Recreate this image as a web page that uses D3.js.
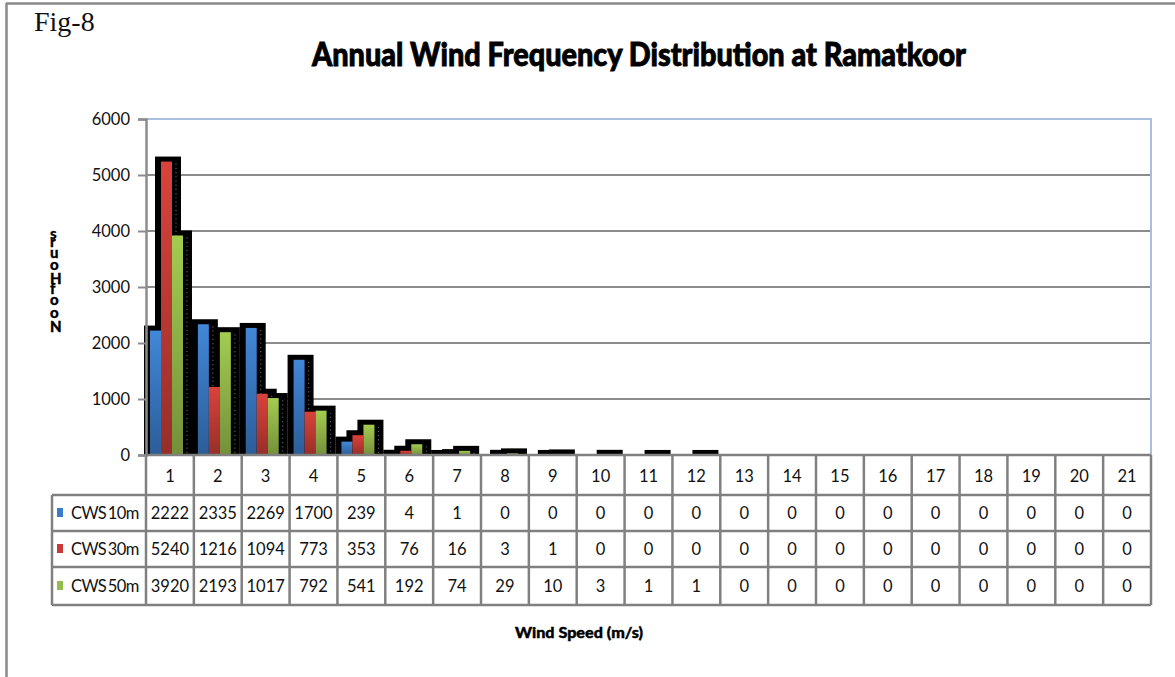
<!DOCTYPE html>
<html>
<head>
<meta charset="utf-8">
<script src="https://cdn.jsdelivr.net/npm/d3@7"></script>
<style>
  html, body { margin: 0; padding: 0; background: #ffffff; }
  svg { display: block; }
</style>
</head>
<body>
<svg id="chart" width="1175" height="677"></svg>
<script>
// Wind speed bins (m/s) and hourly counts for each mast height
const categories = ["1","2","3","4","5","6","7","8","9","10","11","12","13","14","15","16","17","18","19","20","21"];
const seriesNames = ["CWS 10m", "CWS 30m", "CWS 50m"];
const cws10 = [2222, 2335, 2269, 1700, 239, 4, 1, 0, 0, 0, 0, 0, 0, 0, 0, 0, 0, 0, 0, 0, 0];
const cws30 = [5240, 1216, 1094, 773, 353, 76, 16, 3, 1, 0, 0, 0, 0, 0, 0, 0, 0, 0, 0, 0, 0];
const cws50 = [3920, 2193, 1017, 792, 541, 192, 74, 29, 10, 3, 1, 1, 0, 0, 0, 0, 0, 0, 0, 0, 0];
const yTicks = [0, 1000, 2000, 3000, 4000, 5000, 6000];

const seriesValues = [cws10, cws30, cws50];
const seriesColors = [
  { top: "#4287d8", bottom: "#2c5d98", key: "#3b7bcb" },
  { top: "#da423b", bottom: "#982e29", key: "#c83a36" },
  { top: "#a3cc50", bottom: "#74903a", key: "#94bb4c" }
];

const svg = d3.select("#chart");
const font = "Lato, 'Open Sans', sans-serif";

const plot = { left: 146, right: 1151, top: 119, bottom: 455 };

const x = d3.scaleBand().domain(categories).range([plot.left, plot.right]).padding(0);
const sub = d3.scaleBand().domain(seriesNames).range([4, 37]).padding(0);
const y = d3.scaleLinear().domain([0, 6000]).range([plot.bottom, plot.top]);

// gradients for the bar fills
const defs = svg.append("defs");
seriesColors.forEach((c, i) => {
  const g = defs.append("linearGradient")
    .attr("id", "grad" + i).attr("x1", 0).attr("y1", 0).attr("x2", 0).attr("y2", 1);
  g.append("stop").attr("offset", "0%").attr("stop-color", c.top);
  g.append("stop").attr("offset", "100%").attr("stop-color", c.bottom);
});

// outer frame
svg.append("line").attr("x1", 6).attr("x2", 1175).attr("y1", 3.5).attr("y2", 3.5)
  .attr("stroke", "#8a8a8a").attr("stroke-width", 2.5);
svg.append("line").attr("x1", 6.5).attr("x2", 6.5).attr("y1", 3).attr("y2", 677)
  .attr("stroke", "#8a8a8a").attr("stroke-width", 2.5);

// figure tag and title
svg.append("text").attr("x", 34).attr("y", 31)
  .attr("font-family", "'Liberation Serif', 'Times New Roman', serif")
  .attr("font-size", 28).attr("fill", "#111").text("Fig-8");

svg.append("text").attr("x", 312).attr("y", 66)
  .attr("font-family", font).attr("font-weight", 900).attr("font-size", 33)
  .attr("textLength", 654).attr("lengthAdjust", "spacingAndGlyphs")
  .attr("fill", "#000").attr("stroke", "#000").attr("stroke-width", 0.9)
  .text("Annual Wind Frequency Distribution at Ramatkoor");

// gridlines
svg.append("g").selectAll("line").data(yTicks.filter(t => t > 0 && t < 6000)).join("line")
  .attr("x1", plot.left).attr("x2", plot.right)
  .attr("y1", d => y(d)).attr("y2", d => y(d))
  .attr("stroke", "#8c8c8c").attr("stroke-width", 2);

// plot area border (top and right)
svg.append("path")
  .attr("d", `M${plot.left},${y(6000)}H${plot.right}V${plot.bottom}`)
  .attr("fill", "none").attr("stroke", "#a9bfdf").attr("stroke-width", 2);

// flatten bars
const bars = [];
categories.forEach((c, ci) => {
  seriesNames.forEach((s, si) => {
    bars.push({ cat: c, series: s, si: si, value: seriesValues[si][ci] });
  });
});
const barW = sub.bandwidth();

// black drop shadows behind bars
const shadowG = svg.append("g");
shadowG.selectAll("rect").data(bars.filter(d => d.value > 0)).join("rect")
  .attr("x", d => x(d.cat) + sub(d.series) - 6)
  .attr("y", d => y(d.value) - 5)
  .attr("width", barW + 15)
  .attr("height", d => plot.bottom - y(d.value) + 5)
  .attr("fill", "#000");
shadowG.selectAll("line").data(bars.filter(d => d.value > 60)).join("line")
  .attr("x1", d => x(d.cat) + sub(d.series) + barW + 4)
  .attr("x2", d => x(d.cat) + sub(d.series) + barW + 4)
  .attr("y1", d => y(d.value) + 2).attr("y2", plot.bottom)
  .attr("stroke", "#5a5a5a").attr("stroke-width", 1.2).attr("stroke-dasharray", "1.2,3");

// bars
svg.append("g").selectAll("rect").data(bars.filter(d => d.value > 0)).join("rect")
  .attr("x", d => x(d.cat) + sub(d.series))
  .attr("y", d => y(d.value))
  .attr("width", barW)
  .attr("height", d => plot.bottom - y(d.value))
  .attr("fill", d => `url(#grad${d.si})`);

// y axis
const yAxis = svg.append("g").attr("transform", `translate(${plot.left},0)`)
  .call(d3.axisLeft(y).tickValues(yTicks).tickSize(8).tickPadding(8).tickFormat(d3.format("d")));
yAxis.select(".domain").attr("stroke", "#8c8c8c").attr("stroke-width", 2.5);
yAxis.selectAll(".tick line").attr("stroke", "#8c8c8c").attr("stroke-width", 2);
yAxis.selectAll(".tick text").attr("font-family", font).attr("font-size", 16.5).attr("fill", "#111");

// y axis title: upright letters stacked bottom to top
svg.append("text")
  .attr("transform", "translate(50,332) rotate(-90)")
  .attr("rotate", "90")
  .attr("font-family", font).attr("font-weight", 900).attr("font-size", 15)
  .attr("word-spacing", -5)
  .attr("textLength", 100).attr("lengthAdjust", "spacing")
  .attr("fill", "#000").attr("stroke", "#000").attr("stroke-width", 0.3)
  .text("No of Hours");

// data table
const rowEdges = [455, 495, 531, 567, 605];
const tableLeft = 52;
const lineColor = "#808080";
const table = svg.append("g");

// horizontal rules
table.selectAll("line.h").data(rowEdges.slice(1)).join("line").attr("class", "h")
  .attr("x1", tableLeft).attr("x2", plot.right)
  .attr("y1", d => d).attr("y2", d => d)
  .attr("stroke", lineColor).attr("stroke-width", 2.5);
table.append("line").attr("x1", plot.left).attr("x2", plot.right)
  .attr("y1", plot.bottom).attr("y2", plot.bottom)
  .attr("stroke", lineColor).attr("stroke-width", 2.5);

// vertical rules at column edges
const colEdges = categories.map(c => x(c)).concat([plot.right]);
table.selectAll("line.v").data(colEdges).join("line").attr("class", "v")
  .attr("x1", d => d).attr("x2", d => d)
  .attr("y1", plot.bottom).attr("y2", rowEdges[4])
  .attr("stroke", lineColor).attr("stroke-width", 2.5);
table.append("line").attr("x1", tableLeft).attr("x2", tableLeft)
  .attr("y1", rowEdges[1]).attr("y2", rowEdges[4])
  .attr("stroke", lineColor).attr("stroke-width", 2.5);

// category labels
table.selectAll("text.cat").data(categories).join("text").attr("class", "cat")
  .attr("x", d => x(d) + x.bandwidth() / 2).attr("y", (rowEdges[0] + rowEdges[1]) / 2 + 1)
  .attr("dy", "0.35em").attr("text-anchor", "middle")
  .attr("font-family", font).attr("font-size", 16.5).attr("fill", "#111").text(d => d);

// series rows: legend key, name and values
seriesNames.forEach((s, si) => {
  const cy = (rowEdges[si + 1] + rowEdges[si + 2]) / 2;
  table.append("rect").attr("x", 57).attr("y", cy - 5).attr("width", 6).attr("height", 9)
    .attr("fill", seriesColors[si].key);
  table.append("text").attr("x", 71).attr("y", cy).attr("dy", "0.35em")
    .attr("font-family", font).attr("font-size", 16.5).attr("letter-spacing", -0.6)
    .attr("word-spacing", -2)
    .attr("fill", "#111").text(s);
  table.selectAll(null).data(seriesValues[si]).join("text")
    .attr("x", (d, i) => x(categories[i]) + x.bandwidth() / 2).attr("y", cy)
    .attr("dy", "0.35em").attr("text-anchor", "middle")
    .attr("font-family", font).attr("font-size", 16.5).attr("fill", "#111")
    .text(d => d);
});

// x axis title
svg.append("text").attr("x", 579).attr("y", 638).attr("text-anchor", "middle")
  .attr("font-family", font).attr("font-weight", 900).attr("font-size", 15)
  .attr("textLength", 128).attr("lengthAdjust", "spacingAndGlyphs")
  .attr("fill", "#000").attr("stroke", "#000").attr("stroke-width", 0.4)
  .text("Wind Speed (m/s)");
</script>
</body>
</html>
